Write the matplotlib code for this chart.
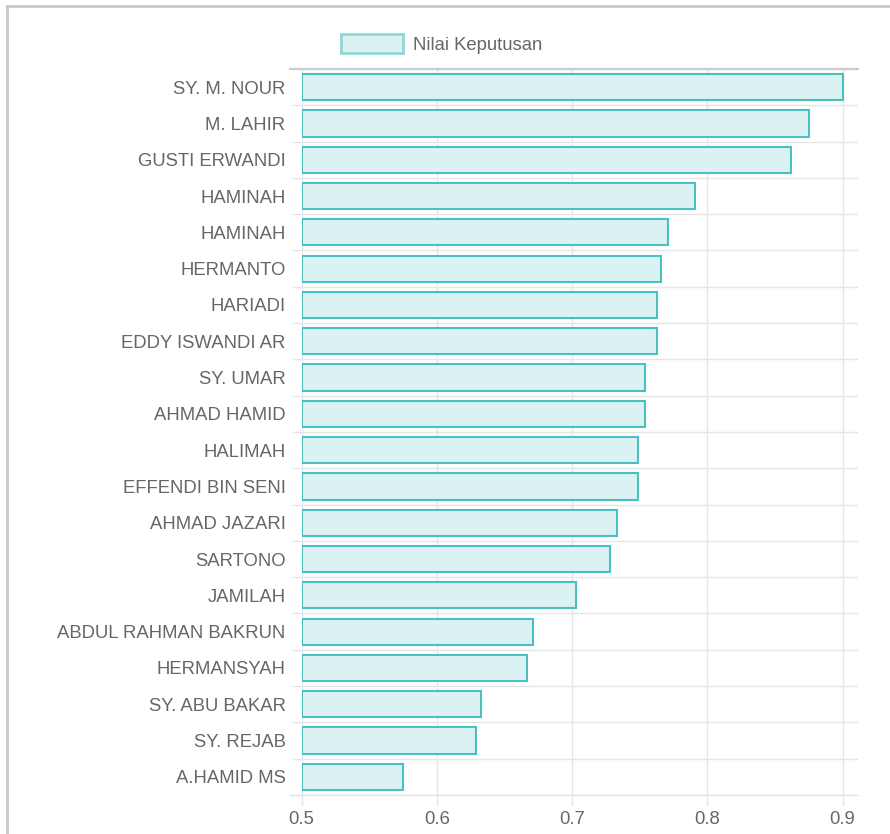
import matplotlib
matplotlib.use("Agg")
import matplotlib.pyplot as plt
from matplotlib.lines import Line2D
from matplotlib.patches import Patch
import numpy as np

names = ["SY. M. NOUR", "M. LAHIR", "GUSTI ERWANDI", "HAMINAH", "HAMINAH", "HERMANTO",
         "HARIADI", "EDDY ISWANDI AR", "SY. UMAR", "AHMAD HAMID", "HALIMAH",
         "EFFENDI BIN SENI", "AHMAD JAZARI", "SARTONO", "JAMILAH",
         "ABDUL RAHMAN BAKRUN", "HERMANSYAH", "SY. ABU BAKAR", "SY. REJAB", "A.HAMID MS"]
values = [0.900, 0.875, 0.862, 0.791, 0.771, 0.766, 0.763, 0.763, 0.754, 0.754,
          0.749, 0.749, 0.7335, 0.728, 0.703, 0.671, 0.667, 0.633, 0.629, 0.575]
series_label = "Nilai Keputusan"
xticks = [0.5, 0.6, 0.7, 0.8, 0.9]

plt.rcParams['font.family'] = ['Liberation Sans', 'DejaVu Sans']
txt = '#666666'
grid = '#e5e5e5'
fill = '#dbf2f2'
edge = '#4bc0c0'
fs = 13.3

W, H = 890, 834
fig = plt.figure(figsize=(W/100, H/100), dpi=100)
ax = fig.add_axes([301.5/W, 1-795/H, (858-301.5)/W, (795-69)/H])

y = np.arange(len(names))
ax.barh(y, [v-0.5 for v in values], left=0.5, height=0.72, color=fill,
        edgecolor=edge, linewidth=1.5, zorder=2)
ax.set_ylim(len(names)-0.5, -0.5)
ax.set_xlim(0.5, 0.5 + (858-301.5)/1352.5)

ax.set_yticks(y)
ax.set_yticklabels(names)
ax.set_yticks(np.arange(-0.5, len(names)), minor=True)
ax.tick_params(axis='y', which='major', length=0, pad=11.5, labelsize=fs, labelcolor=txt)
ax.tick_params(axis='y', which='minor', length=7.5, color=grid, width=1)
ax.set_xticks(xticks)
ax.set_xticklabels([f"{t:g}" for t in xticks])
ax.tick_params(axis='x', which='major', length=7.5, color=grid, width=1, pad=4,
               labelsize=fs, labelcolor=txt)
ax.grid(True, axis='x', which='major', color=grid, linewidth=1, zorder=0)
ax.grid(True, axis='y', which='minor', color=grid, linewidth=1, zorder=0)
for s in ['right', 'bottom', 'left']:
    ax.spines[s].set_visible(False)
ax.spines['top'].set_color('#cccccc')
ax.spines['top'].set_linewidth(1.5)
ax.set_axisbelow(True)
fig.add_artist(Line2D([290/W, 858/W], [1-69/H, 1-69/H], color='#cccccc', linewidth=1.5))
fig.add_artist(Line2D([290/W, 858/W], [1-795/H, 1-795/H], color=grid, linewidth=1))

# legend
handle = Patch(facecolor=fill, edgecolor='#8fd6d6', linewidth=2)
fig.legend([handle], [series_label], loc='center', bbox_to_anchor=(442/W, 1-44/H),
           frameon=False, handlelength=3.35, handleheight=1.14, handletextpad=0.54,
           fontsize=fs, labelcolor=txt)

# card frame
fig.add_artist(Line2D([7/W, 7/W], [0, 1-6/H], color='#c8c8c8', linewidth=2))
fig.add_artist(Line2D([7/W, 1], [1-6/H, 1-6/H], color='#c8c8c8', linewidth=2))

fig.savefig("out.png", dpi=100)
